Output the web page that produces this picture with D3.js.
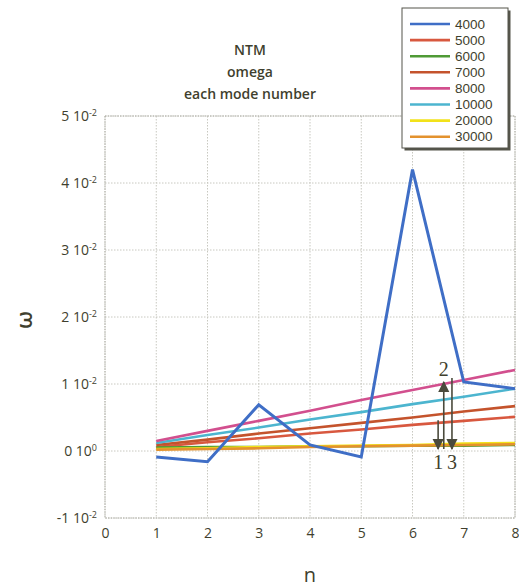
<!DOCTYPE html>
<html>
<head>
<meta charset="utf-8">
<script src="https://cdn.jsdelivr.net/npm/d3@7"></script>
<style>
  body { margin: 0; background: #fff; }
  svg text { font-family: "Open Sans", "DejaVu Sans", sans-serif; fill: #3f3f2e; }
</style>
</head>
<body>
<div id="chart"></div>
<script>
// mode numbers
var modes = [1, 2, 3, 4, 5, 6, 7, 8];

// omega for each case
var s4000  = [-0.0009, -0.0016, 0.0069, 0.0009, -0.0009, 0.0420, 0.0103, 0.0093];
var s5000  = [0.0006, 0.0013, 0.0019, 0.0026, 0.0032, 0.0039, 0.0045, 0.0051];
var s6000  = [0.0005, 0.0006, 0.0006, 0.0007, 0.0007, 0.0008, 0.0008, 0.0009];
var s7000  = [0.0009, 0.0017, 0.0026, 0.0034, 0.0042, 0.0050, 0.0059, 0.0067];
var s8000  = [0.0015, 0.0030, 0.0045, 0.0060, 0.0076, 0.0091, 0.0106, 0.0121];
var s10000 = [0.0012, 0.0024, 0.0035, 0.0047, 0.0058, 0.0070, 0.0081, 0.0093];
var s20000 = [0.0003, 0.0004, 0.0006, 0.0007, 0.0008, 0.0009, 0.0011, 0.0012];
var s30000 = [0.0002, 0.0003, 0.0004, 0.0006, 0.0007, 0.0008, 0.0009, 0.0010];

var seriesNames = ["4000", "5000", "6000", "7000", "8000", "10000", "20000", "30000"];
var seriesValues = [s4000, s5000, s6000, s7000, s8000, s10000, s20000, s30000];
var seriesColors = ["#3f6ec6", "#d8583f", "#4f9a35", "#c4532c", "#d24f8e", "#4cb5cf", "#f2e21a", "#e3922e"];

var xTicks = [0, 1, 2, 3, 4, 5, 6, 7, 8];
var yTicks = [-0.01, 0, 0.01, 0.02, 0.03, 0.04, 0.05];
var yTickMant = ["-1", "0", "1", "2", "3", "4", "5"];
var yTickExp = ["-2", "0", "-2", "-2", "-2", "-2", "-2"];

var titleLines = ["NTM", "omega", "each mode number"];

// annotation arrows: [n, from, to, label]
var arrowN = [6.50, 6.61, 6.77];
var arrowFrom = [0.0046, 0.0003, 0.0109];
var arrowTo = [0.0003, 0.0103, 0.0003];
var arrowLabels = ["1", "2", "3"];

var W = 519, H = 588;
var margin = { top: 116, right: 4, bottom: 70, left: 105 };
var width = W - margin.left - margin.right,
    height = H - margin.top - margin.bottom;

var svg = d3.select("#chart").append("svg")
    .attr("width", W)
    .attr("height", H);

svg.append("defs").append("marker")
    .attr("id", "head")
    .attr("viewBox", "0 0 10 10")
    .attr("refX", 9).attr("refY", 5)
    .attr("markerWidth", 7).attr("markerHeight", 8)
    .attr("orient", "auto")
  .append("path")
    .attr("d", "M0,0 L10,5 L0,10 z")
    .attr("fill", "#4a4a3c");

var g = svg.append("g")
    .attr("transform", "translate(" + margin.left + "," + margin.top + ")");

var x = d3.scaleLinear().domain([0, 8]).range([0, width]);
var y = d3.scaleLinear().domain([-0.01, 0.05]).range([height, 0]);

// grid
g.selectAll(".vgrid").data(xTicks).enter().append("line")
    .attr("x1", function(d) { return x(d); }).attr("x2", function(d) { return x(d); })
    .attr("y1", 0).attr("y2", height)
    .attr("stroke", "#c8c8c0").attr("stroke-width", 1)
    .attr("stroke-dasharray", "1.5,1.5");
g.selectAll(".hgrid").data(yTicks).enter().append("line")
    .attr("x1", 0).attr("x2", width)
    .attr("y1", function(d) { return y(d); }).attr("y2", function(d) { return y(d); })
    .attr("stroke", "#c8c8c0").attr("stroke-width", 1)
    .attr("stroke-dasharray", "1.5,1.5");
g.append("rect")
    .attr("width", width).attr("height", height)
    .attr("fill", "none").attr("stroke", "#b0b0a8")
    .attr("stroke-dasharray", "1.5,1");

// x axis labels
var xAxis = g.append("g")
    .attr("transform", "translate(0," + height + ")")
    .call(d3.axisBottom(x).tickValues(xTicks).tickSize(0).tickPadding(10));
xAxis.select(".domain").remove();
xAxis.selectAll("text")
    .style("font-size", "14px")
    .attr("fill", "#3f3f2e");

// y axis labels with exponent
var yAxis = g.append("g")
    .call(d3.axisLeft(y).tickValues(yTicks).tickSize(0).tickPadding(8).tickFormat(""));
yAxis.select(".domain").remove();
yAxis.selectAll(".tick text").each(function(d, i) {
  var t = d3.select(this)
      .attr("dy", "0.32em")
      .style("font-size", "14px")
      .attr("fill", "#3f3f2e");
  t.append("tspan").text(yTickMant[i] + " 10");
  t.append("tspan").text(yTickExp[i])
      .attr("dy", "-0.6em")
      .style("font-size", "9px");
});

// series lines
var line = d3.line()
    .x(function(d, i) { return x(modes[i]); })
    .y(function(d) { return y(d); });

var order = [1, 2, 3, 5, 4, 6, 7, 0];
order.forEach(function(k) {
  g.append("path")
      .datum(seriesValues[k])
      .attr("d", line)
      .attr("fill", "none")
      .attr("stroke", seriesColors[k])
      .attr("stroke-width", k === 0 ? 3 : 2.6)
      .attr("stroke-linejoin", "miter");
});

// arrows
arrowN.forEach(function(n, i) {
  g.append("line")
      .attr("x1", x(n)).attr("x2", x(n))
      .attr("y1", y(arrowFrom[i])).attr("y2", y(arrowTo[i]))
      .attr("stroke", "#4a4a3c").attr("stroke-width", 1.6)
      .attr("marker-end", "url(#head)");
  var up = arrowTo[i] > arrowFrom[i];
  g.append("text")
      .attr("x", x(n))
      .attr("y", up ? y(arrowTo[i]) - 6 : y(arrowTo[i]) + 20)
      .attr("text-anchor", "middle")
      .style("font-family", "'Liberation Serif', 'DejaVu Serif', serif")
      .style("font-size", "20px")
      .attr("fill", "#3e3e32")
      .text(arrowLabels[i]);
});

// title
svg.selectAll(".title").data(titleLines).enter().append("text")
    .attr("x", 250)
    .attr("y", function(d, i) { return 55 + i * 22; })
    .attr("text-anchor", "middle")
    .style("font-size", "14px")
    .style("font-weight", "600")
    .text(function(d) { return d; });

// axis titles
svg.append("text")
    .attr("x", 310).attr("y", 582)
    .attr("text-anchor", "middle")
    .style("font-size", "20px")
    .text("n");
svg.append("text")
    .attr("transform", "translate(24,320) rotate(-90)")
    .attr("text-anchor", "middle")
    .attr("dy", "0.35em")
    .style("font-size", "22px")
    .style("font-weight", "600")
    .text("ω");

// legend
var lg = svg.append("g").attr("transform", "translate(402,8)");
lg.append("rect")
    .attr("x", 2.5).attr("y", 2.5).attr("width", 106).attr("height", 140)
    .attr("fill", "#55554a");
lg.append("rect")
    .attr("width", 106).attr("height", 140)
    .attr("fill", "#fff").attr("stroke", "#55554a").attr("stroke-width", 1);
seriesNames.forEach(function(name, i) {
  var yy = 16 + i * 16.1;
  lg.append("line")
      .attr("x1", 8).attr("x2", 48)
      .attr("y1", yy).attr("y2", yy)
      .attr("stroke", seriesColors[i]).attr("stroke-width", 2.6);
  lg.append("text")
      .attr("x", 53).attr("y", yy).attr("dy", "0.35em")
      .style("font-family", "'Liberation Sans', Arial, sans-serif")
      .style("font-size", "13.5px")
      .attr("fill", seriesColors[i])
      .text(name);
});
</script>
</body>
</html>
